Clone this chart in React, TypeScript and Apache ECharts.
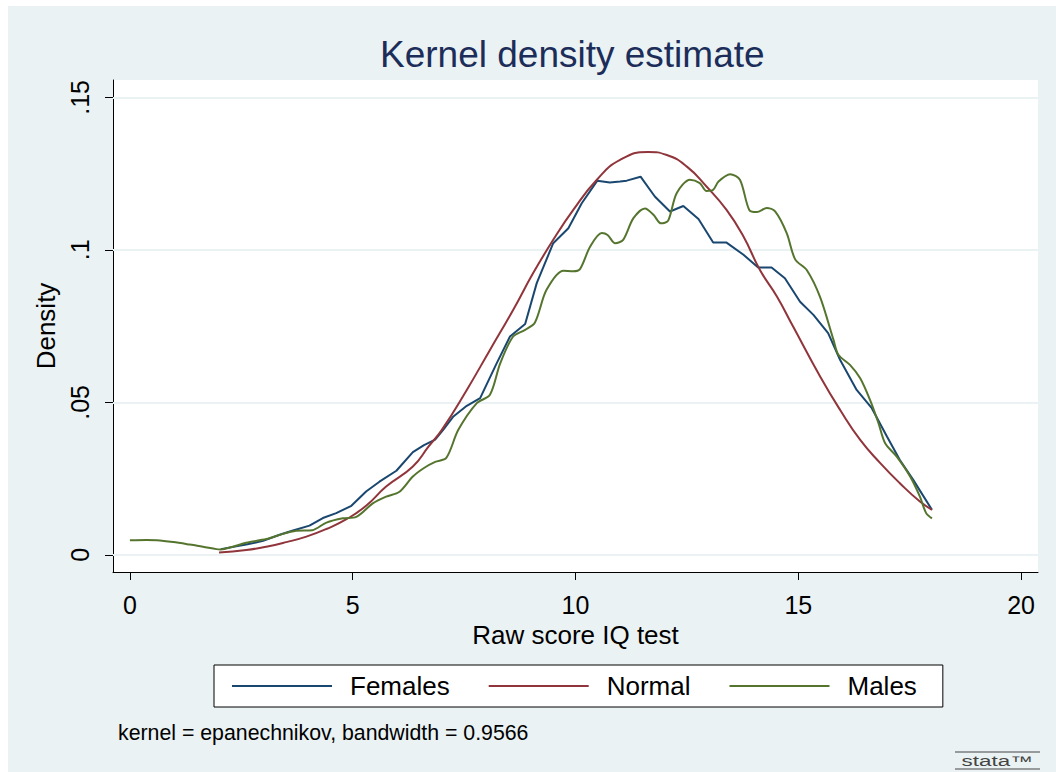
import React, { useEffect, useRef } from 'react';
import * as echarts from 'echarts';

// ---- data ----
const femalesX = [2.04, 2.61, 2.99, 3.36, 3.66, 4.03, 4.33, 4.63, 4.97, 5.30, 5.60, 5.98, 6.35, 6.60, 6.85, 7.03, 7.26, 7.56, 7.86, 8.23, 8.53, 8.87, 9.13, 9.50, 9.84, 10.14, 10.49, 10.77, 11.00, 11.15, 11.46, 11.78, 12.12, 12.42, 12.76, 13.09, 13.39, 13.77, 14.10, 14.40, 14.70, 15.04, 15.34, 15.67, 15.94, 16.31, 16.65, 16.99, 17.28, 17.58, 18.00];
const femalesY = [0.0019, 0.0034, 0.0046, 0.0066, 0.0080, 0.0096, 0.0121, 0.0137, 0.0161, 0.0208, 0.0240, 0.0276, 0.0337, 0.0360, 0.0378, 0.0410, 0.0454, 0.0489, 0.0514, 0.0628, 0.0716, 0.0757, 0.0891, 0.1022, 0.1071, 0.1153, 0.1227, 0.1221, 0.1224, 0.1227, 0.1240, 0.1175, 0.1126, 0.1144, 0.1101, 0.1024, 0.1024, 0.0984, 0.0942, 0.0942, 0.0907, 0.0830, 0.0787, 0.0727, 0.0639, 0.0541, 0.0481, 0.0388, 0.0311, 0.0246, 0.0148];

const normalX = [2.00, 2.61, 3.06, 3.51, 3.96, 4.41, 4.86, 5.30, 5.75, 6.35, 6.70, 7.00, 7.56, 8.08, 8.60, 9.05, 9.50, 9.95, 10.48, 11.00, 11.63, 12.05, 12.50, 12.94, 13.39, 13.77, 14.14, 14.52, 14.89, 15.49, 15.94, 16.39, 16.84, 17.28, 17.73, 18.00];
const normalY = [0.0008, 0.0016, 0.0027, 0.0042, 0.0060, 0.0085, 0.0117, 0.0161, 0.0224, 0.0290, 0.0355, 0.0410, 0.0541, 0.0672, 0.0803, 0.0924, 0.1033, 0.1131, 0.1230, 0.1295, 0.1321, 0.1311, 0.1273, 0.1208, 0.1131, 0.1044, 0.0934, 0.0847, 0.0747, 0.0585, 0.0475, 0.0377, 0.0301, 0.0235, 0.0175, 0.0148];

const malesX = [0.00, 0.37, 0.60, 0.97, 1.34, 1.64, 1.94, 2.04, 2.31, 2.61, 3.06, 3.43, 3.73, 4.09, 4.41, 4.78, 5.08, 5.45, 5.75, 6.05, 6.35, 6.60, 6.85, 7.10, 7.37, 7.78, 8.08, 8.31, 8.60, 8.87, 9.09, 9.35, 9.73, 9.95, 10.10, 10.33, 10.59, 10.72, 10.89, 11.07, 11.30, 11.56, 11.75, 11.92, 12.08, 12.27, 12.57, 12.79, 12.94, 13.09, 13.21, 13.47, 13.69, 13.90, 14.07, 14.29, 14.48, 14.74, 14.93, 15.19, 15.49, 15.79, 15.90, 16.16, 16.39, 16.61, 16.80, 16.95, 17.21, 17.51, 17.73, 17.87, 18.00];
const malesY = [0.0048, 0.0049, 0.0048, 0.0042, 0.0034, 0.0027, 0.0019, 0.0018, 0.0027, 0.0040, 0.0052, 0.0069, 0.0079, 0.0081, 0.0106, 0.0120, 0.0125, 0.0169, 0.0191, 0.0207, 0.0257, 0.0285, 0.0305, 0.0318, 0.0410, 0.0497, 0.0525, 0.0628, 0.0716, 0.0738, 0.0762, 0.0869, 0.0932, 0.0930, 0.0937, 0.1011, 0.1055, 0.1049, 0.1022, 0.1033, 0.1104, 0.1136, 0.1115, 0.1087, 0.1096, 0.1186, 0.1230, 0.1219, 0.1193, 0.1197, 0.1224, 0.1248, 0.1230, 0.1131, 0.1124, 0.1137, 0.1126, 0.1055, 0.0969, 0.0934, 0.0845, 0.0705, 0.0656, 0.0623, 0.0579, 0.0508, 0.0432, 0.0366, 0.0322, 0.0257, 0.0191, 0.0137, 0.0120];

const seriesNames = ['Females', 'Normal', 'Males'];
const seriesColors = ['#1a476f', '#90353b', '#55752f'];

const xTicks = [0, 5, 10, 15, 20];
const xTickLabels = ['0', '5', '10', '15', '20'];
const yTicks = [0, 0.05, 0.1, 0.15];
const yTickLabels = ['0', '.05', '.1', '.15'];

const titleText = 'Kernel density estimate';
const xAxisTitle = 'Raw score IQ test';
const yAxisTitle = 'Density';
const noteText = 'kernel = epanechnikov, bandwidth = 0.9566';
const logoText = 'stata™';

function pairs(xs: number[], ys: number[]) {
  return xs.map((x, i) => [x, ys[i]]);
}

function labelFor(ticks: number[], labels: string[], v: number) {
  const i = ticks.findIndex((t) => Math.abs(t - v) < 1e-9);
  return i >= 0 ? labels[i] : '';
}

export default function App() {
  const ref = useRef<HTMLDivElement>(null);
  useEffect(() => {
    document.body.style.margin = '0';
    const chart = echarts.init(ref.current!, null, { renderer: 'svg' });
    const font = "'Liberation Sans', Arial, Helvetica, sans-serif";
    const datasets = [pairs(femalesX, femalesY), pairs(normalX, normalY), pairs(malesX, malesY)];
    const smooths = [false, true, 0.3];
    chart.setOption({
      animation: false,
      backgroundColor: '#eaf2f3',
      textStyle: { fontFamily: font },
      title: [
        {
          text: titleText, left: 380, top: 36, padding: 0,
          textStyle: { fontSize: 37, fontWeight: 'normal', color: '#1c2d5a', fontFamily: font },
        },
        {
          text: noteText, left: 118, top: 722, padding: 0,
          textStyle: { fontSize: 21.3, fontWeight: 'normal', color: '#000', fontFamily: font },
        },
      ],
      grid: {
        left: 113, top: 80, right: 18, bottom: 200,
        show: true, backgroundColor: '#ffffff', borderWidth: 0,
        containLabel: false, outerBoundsMode: 'none',
      },
      legend: {
        data: seriesNames,
        left: 214, top: 665,
        orient: 'horizontal',
        icon: 'rect',
        itemWidth: 100, itemHeight: 2, itemGap: 39,
        padding: [8, 26, 8, 18],
        backgroundColor: '#ffffff', borderColor: '#000', borderWidth: 1, borderRadius: 0,
        selectedMode: false,
        textStyle: { fontSize: 26, color: '#000', fontFamily: font, padding: [0, 0, 0, 13], lineHeight: 26 },
      },
      xAxis: {
        type: 'value', min: -0.38, max: 20.38,
        name: xAxisTitle, nameLocation: 'middle', nameGap: 45,
        nameTextStyle: { fontSize: 26, color: '#000', fontFamily: font },
        axisLine: { show: true, onZero: false, lineStyle: { color: '#000', width: 1 } },
        axisTick: { show: true, customValues: xTicks, length: 8, lineStyle: { color: '#000', width: 1 } },
        axisLabel: {
          show: true, customValues: xTicks, margin: 20, fontSize: 25, color: '#000', fontFamily: font,
          hideOverlap: false,
          formatter: (v: number) => labelFor(xTicks, xTickLabels, v),
        },
        splitLine: { show: false },
      },
      yAxis: {
        type: 'value', min: -0.0056, max: 0.1557,
        name: yAxisTitle, nameLocation: 'middle', nameGap: 52, nameRotate: 90,
        nameTextStyle: { fontSize: 26, color: '#000', fontFamily: font },
        axisLine: { show: true, onZero: false, lineStyle: { color: '#000', width: 1 } },
        axisTick: { show: true, customValues: yTicks, length: 8, lineStyle: { color: '#000', width: 1 } },
        axisLabel: {
          show: true, customValues: yTicks, rotate: 90, margin: 21, fontSize: 25, color: '#000', fontFamily: font,
          hideOverlap: false,
          formatter: (v: number) => labelFor(yTicks, yTickLabels, v),
        },
        splitLine: { show: false },
      },
      series: [
        {
          name: 'gridlines', type: 'line', data: [], z: 1, silent: true,
          markLine: {
            silent: true, symbol: 'none', z: 1, animation: false,
            label: { show: false },
            lineStyle: { color: '#eaf2f3', width: 2, type: 'solid' },
            data: yTicks.map((v) => ({ yAxis: v })),
          },
        },
        ...seriesNames.map((name, i) => ({
          name, type: 'line', data: datasets[i],
          symbol: 'none', showSymbol: false, smooth: smooths[i], z: 3,
          lineStyle: { color: seriesColors[i], width: 2 },
          itemStyle: { color: seriesColors[i] },
        })),
      ],
      graphic: [
        { type: 'rect', silent: true, shape: { x: 0, y: 0, width: 1056, height: 6 }, style: { fill: '#ffffff' } },
        { type: 'rect', silent: true, shape: { x: 0, y: 0, width: 8, height: 772 }, style: { fill: '#ffffff' } },
        { type: 'line', silent: true, shape: { x1: 955, y1: 752, x2: 1040, y2: 752 }, style: { stroke: '#444', lineWidth: 1 } },
        { type: 'line', silent: true, shape: { x1: 955, y1: 769, x2: 1040, y2: 769 }, style: { stroke: '#444', lineWidth: 1 } },
        {
          type: 'text', silent: true, x: 997, y: 761, scaleX: 1.6, scaleY: 1,
          style: { text: logoText, align: 'center', verticalAlign: 'middle', fontSize: 14, fill: '#444', fontFamily: font },
        },
      ],
    });
    return () => chart.dispose();
  }, []);
  return <div ref={ref} style={{ position: 'fixed', left: 0, top: 0, width: 1056, height: 772 }} />;
}
